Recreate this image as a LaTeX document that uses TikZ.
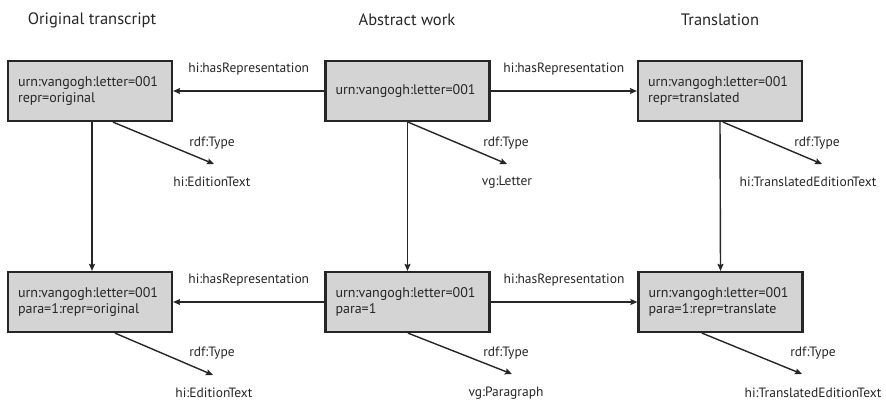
\documentclass[tikz,border=0pt]{standalone}
\usepackage{fontspec}
\setmainfont{PT Sans}
\usetikzlibrary{arrows.meta}
\begin{document}
\begin{tikzpicture}[x=1pt,y=-1pt,
  res/.style={draw=black!85, line width=2.2pt, fill=black!17, text width=144pt, align=left,
    minimum height=60pt, inner xsep=10pt, font=\fontsize{14}{15.5}\selectfont, text=black!85},
  head/.style={font=\fontsize{16.5}{19}\selectfont, text=black!85},
  lbl/.style={font=\fontsize{13.5}{15}\selectfont, text=black!85, inner sep=0pt},
  arr/.style={line width=1.4pt, draw=black!85, -{Stealth[length=7pt,width=6pt,inset=1pt]}}]
\useasboundingbox (0,0) rectangle (886,400);
% headings
\node[head] (h1) at (92,20) {Original transcript};
\node[head] (h2) at (407,20) {Abstract work};
\node[head] (h3) at (720,20) {Translation};
% boxes
\node[res] (tl) at (90,91) {urn:vangogh:letter=001\\repr=original};
\node[res] (tm) at (407.5,91) {urn:vangogh:letter=001};
\node[res] (tr) at (720,91) {urn:vangogh:letter=001\\repr=translated};
\node[res] (bl) at (90,302) {urn:vangogh:letter=001\\para=1:repr=original};
\node[res] (bm) at (407.5,302) {urn:vangogh:letter=001\\para=1};
\node[res] (br) at (720.5,302) {urn:vangogh:letter=001\\para=1:repr=translate};
% horizontal arrows
\draw[arr] (tm.west) -- node[lbl, above=15pt] {hi:hasRepresentation} (tl.east);
\draw[arr] (tm.east) -- node[lbl, above=15pt] {hi:hasRepresentation} (tr.west);
\draw[arr] (bm.west) -- node[lbl, above=15pt] {hi:hasRepresentation} (bl.east);
\draw[arr] (bm.east) -- node[lbl, above=15pt] {hi:hasRepresentation} (br.west);
% vertical arrows
\draw[arr] ([xshift=2pt]tl.south) -- ([xshift=2pt]bl.north);
\draw[arr] ([xshift=0pt]tm.south) -- ([xshift=0pt]bm.north);
\draw[arr] ([xshift=0pt]tr.south) -- ([xshift=0pt]br.north);
% type targets
\coordinate (e1) at (214,164);
\coordinate (e2) at (507,164);
\coordinate (e3) at (822,164);
\coordinate (e4) at (213,375);
\coordinate (e5) at (512,374);
\coordinate (e6) at (802,374);
\draw[arr] ([xshift=23pt]tl.south) -- (e1);
\draw[arr] ([xshift=0.5pt]tm.south) -- (e2);
\draw[arr] ([xshift=3pt]tr.south) -- (e3);
\draw[arr] ([xshift=25pt]bl.south) -- (e4);
\draw[arr] ([xshift=0.5pt]bm.south) -- (e5);
\draw[arr] ([xshift=-18.5pt]br.south) -- (e6);
% labels
\node[lbl] (t1) at (212,143) {rdf:Type};
\node[lbl] (t2) at (506,143) {rdf:Type};
\node[lbl] (t3) at (817,143) {rdf:Type};
\node[lbl] (t4) at (212,353) {rdf:Type};
\node[lbl] (t5) at (506,353) {rdf:Type};
\node[lbl] (t6) at (813,353) {rdf:Type};
\node[lbl] (c1) at (212,182) {hi:EditionText};
\node[lbl] (c2) at (507,182) {vg:Letter};
\node[lbl] (c3) at (808,182) {hi:TranslatedEditionText};
\node[lbl] (c4) at (214,393) {hi:EditionText};
\node[lbl] (c5) at (506,393) {vg:Paragraph};
\node[lbl] (c6) at (813,393) {hi:TranslatedEditionText};
\end{tikzpicture}
\end{document}
